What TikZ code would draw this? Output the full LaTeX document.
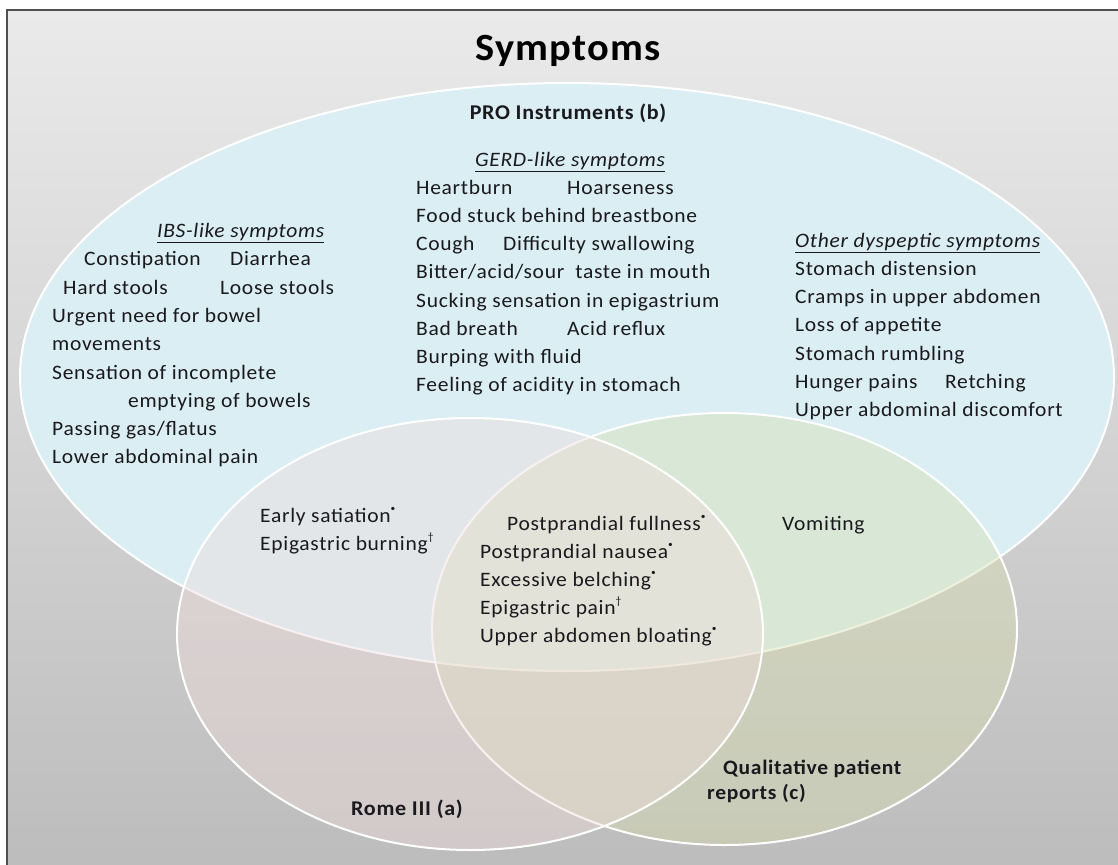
\documentclass[tikz,border=0pt]{standalone}
\usepackage{fontspec}
\setmainfont{Carlito}[FakeStretch=1.05, LetterSpace=3.4]
\definecolor{bgtop}{RGB}{234,234,234}
\definecolor{bgbot}{RGB}{188,188,188}
\definecolor{frame}{RGB}{80,80,80}
\definecolor{problue}{RGB}{218,238,243}
\definecolor{qualgreen}{RGB}{215,222,172}
\definecolor{romepink}{RGB}{242,220,220}
\definecolor{ink}{RGB}{25,25,30}
\newcommand{\mydot}{\raisebox{0.5em}{\fontsize{9}{9}\selectfont\textbullet}}
\newcommand{\mydag}{\raisebox{0.45em}{\fontsize{11}{11}\selectfont\textdagger}}
\begin{document}
\begin{tikzpicture}[x=1pt,y=-1pt,
  txt/.style={anchor=base west, inner sep=0pt, text=ink, font=\fontsize{20.5}{24}\selectfont},
  hdr/.style={txt, font=\fontsize{20.5}{24}\selectfont\itshape},
  lbl/.style={anchor=base, inner sep=0pt, text=ink, font=\fontsize{21}{24}\selectfont\bfseries},
  qlbl/.style={anchor=base west, inner sep=0pt, text=ink, font=\fontsize{20.5}{24}\selectfont\bfseries},
  setline/.style={draw=white, line width=2pt}
]
\useasboundingbox (0,0) rectangle (1118,864);
% background
\shade[top color=bgtop, bottom color=bgbot] (7,10) rectangle (1130,875);
\draw[frame, line width=1.5pt] (7,875) -- (7,10) -- (1130,10);
% sets
\fill[problue] (567,377) ellipse [x radius=547, y radius=294];
\draw[setline] (567,377) ellipse [x radius=547, y radius=294];
\path[setline, fill=qualgreen, fill opacity=0.4] (724.5,629) ellipse [x radius=292.5, y radius=216];
\path[setline, fill=romepink, fill opacity=0.4] (470,634) ellipse [x radius=293, y radius=216];
% title
\node[anchor=base, inner sep=0pt, text=black, font=\fontsize{38.5}{46}\selectfont\bfseries] (title) at (568,61) {Symptoms};
\node[lbl] (pro) at (568,120) {PRO Instruments (b)};
% GERD
\node[hdr, anchor=base] (gerd) at (570,166) {\underline{GERD-like symptoms}};
\node[txt] (g1) at (416,194) {Heartburn};
\node[txt] (g2) at (567,194) {Hoarseness};
\node[txt] (g3) at (416,222) {Food stuck behind breastbone};
\node[txt] (g4) at (416,250) {Cough};
\node[txt] (g5) at (503,250) {Difficulty swallowing};
\node[txt] (g6) at (416,278) {Bitter/acid/sour\ \ taste in mouth};
\node[txt] (g7) at (416,307) {Sucking sensation in epigastrium};
\node[txt] (g8) at (416,335) {Bad breath};
\node[txt] (g9) at (567,335) {Acid reflux};
\node[txt] (g10) at (416,363) {Burping with fluid};
\node[txt] (g11) at (416,391) {Feeling of acidity in stomach};
% IBS
\node[hdr] (ibs) at (157,237) {\underline{IBS-like symptoms}};
\node[txt] (i1) at (84,265) {Constipation};
\node[txt] (i2) at (230,265) {Diarrhea};
\node[txt] (i3) at (63,294) {Hard stools};
\node[txt] (i4) at (220,294) {Loose stools};
\node[txt] (i5) at (52,322) {Urgent need for bowel};
\node[txt] (i6) at (52,350) {movements};
\node[txt] (i7) at (52,379) {Sensation of incomplete};
\node[txt] (i8) at (128,407) {emptying of bowels};
\node[txt] (i9) at (52,435) {Passing gas/flatus};
\node[txt] (i10) at (52,463) {Lower abdominal pain};
% Other dyspeptic
\node[hdr] (oth) at (795,247) {\underline{Other dyspeptic symptoms}};
\node[txt] (o1) at (795,275) {Stomach distension};
\node[txt] (o2) at (795,303) {Cramps in upper abdomen};
\node[txt] (o3) at (795,331) {Loss of appetite};
\node[txt] (o4) at (795,360) {Stomach rumbling};
\node[txt] (o5) at (795,388) {Hunger pains};
\node[txt] (o6) at (945,388) {Retching};
\node[txt] (o7) at (795,416) {Upper abdominal discomfort};
% Rome & PRO
\node[txt] (r1) at (260,522) {Early satiation\mydot};
\node[txt] (r2) at (260,550) {Epigastric burning\mydag};
% centre
\node[txt] (c1) at (507,530) {Postprandial fullness\mydot};
\node[txt] (c2) at (480,558) {Postprandial nausea\mydot};
\node[txt] (c3) at (480,586) {Excessive belching\mydot};
\node[txt] (c4) at (480,614) {Epigastric pain\mydag};
\node[txt] (c5) at (480,642) {Upper abdomen bloating\mydot};
% Qual & PRO
\node[txt] (v1) at (782,530) {Vomiting};
% labels
\node[lbl] (rome) at (407,815) {Rome III (a)};
\node[qlbl] (qual1) at (723,774) {Qualitative patient};
\node[qlbl] (qual2) at (707,799) {reports (c)};
\end{tikzpicture}
\end{document}
